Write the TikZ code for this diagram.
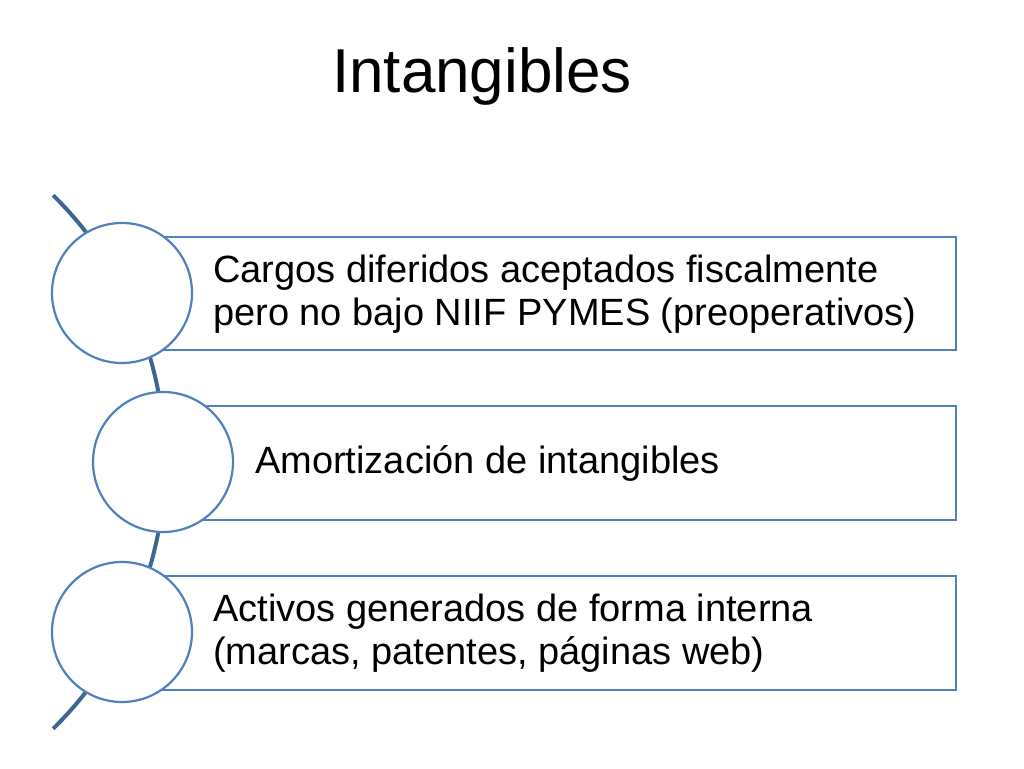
\documentclass[tikz,border=0pt]{standalone}
\usepackage{fontspec}
\setmainfont{Liberation Sans}
\definecolor{bl}{HTML}{4F81BD}
\definecolor{arcc}{HTML}{3F6593}
\begin{document}
\begin{tikzpicture}[x=1pt,y=1pt,
  bar/.style={draw=bl,line width=2.2pt,fill=white},
  circ/.style={circle,draw=bl,line width=2.2pt,fill=white,minimum size=140pt,inner sep=0pt},
  txt/.style={anchor=west,align=left,font=\fontsize{38}{43}\selectfont,inner sep=0pt}]
\useasboundingbox (0,0) rectangle (1024,768);
\node (title) at (482,692) {\fontsize{62}{70}\selectfont Intangibles};
\draw[arcc,line width=4pt] (-209,306) ++(45.5:374) arc (45.5:-45.5:374);
\draw[bar] (122,531) rectangle (956,418);
\draw[bar] (163,362) rectangle (956,248);
\draw[bar] (122,192) rectangle (956,78);
\node[circ] (c1) at (122,475) {};
\node[circ] (c2) at (163,306) {};
\node[circ] (c3) at (122,136) {};
\node[txt] (t1) at (213,474) {Cargos diferidos aceptados fiscalmente\\pero no bajo NIIF PYMES (preoperativos)};
\node[txt] (t2) at (255,305) {Amortización de intangibles};
\node[txt] (t3) at (213,135) {Activos generados de forma interna\\(marcas, patentes, páginas web)};
\end{tikzpicture}
\end{document}
